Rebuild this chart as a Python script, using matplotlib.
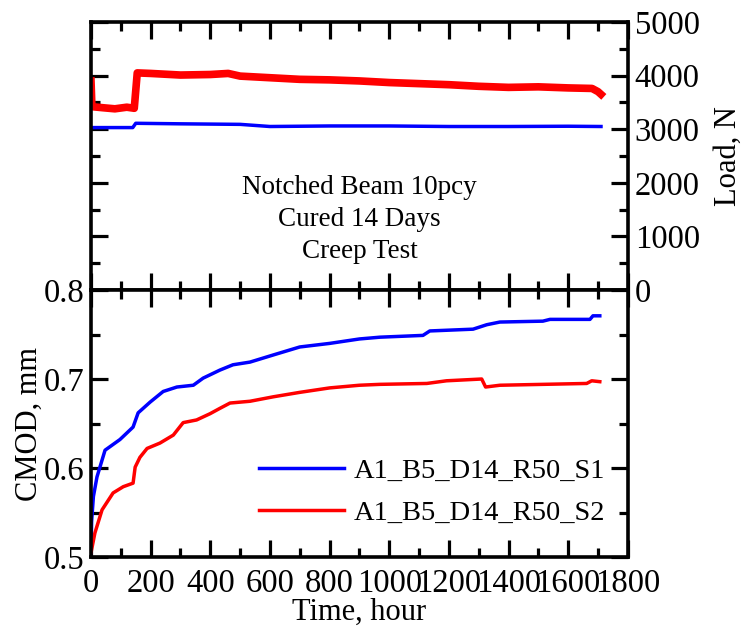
import matplotlib
matplotlib.use("Agg")
import matplotlib.pyplot as plt
from matplotlib.ticker import MultipleLocator

plt.rcParams['font.family'] = ['Liberation Serif', 'DejaVu Serif']
plt.rcParams['font.size'] = 22

# load vs time (top panel)
load_t_s1 = [0, 140, 150, 300, 500, 600, 800, 1000, 1200, 1400, 1600, 1710]
load_s1 = [3030, 3030, 3110, 3100, 3090, 3050, 3060, 3060, 3050, 3050, 3055, 3050]

load_t_s2 = [0, 3, 40, 80, 120, 145, 155, 200, 300, 400, 460, 500, 600, 700,
             800, 900, 1000, 1100, 1200, 1300, 1400, 1500, 1600, 1680, 1700, 1710]
load_s2 = [3900, 3420, 3400, 3380, 3410, 3390, 4050, 4040, 4010, 4020, 4040, 3990,
           3960, 3930, 3920, 3900, 3870, 3850, 3830, 3800, 3780, 3790, 3770, 3760,
           3700, 3650]

# CMOD vs time (bottom panel)
cmod_t_s1 = [0, 2, 8, 20, 47, 97, 141, 158, 198, 242, 288, 343, 376, 432, 476, 533,
             611, 700, 800, 900, 969, 1113, 1136, 1281, 1327, 1371, 1515, 1539,
             1673, 1683, 1706]
cmod_s1 = [0.505, 0.540, 0.568, 0.590, 0.620, 0.632, 0.646, 0.662, 0.674, 0.686,
           0.691, 0.693, 0.701, 0.710, 0.716, 0.719, 0.727, 0.736, 0.740, 0.745,
           0.747, 0.749, 0.754, 0.756, 0.761, 0.764, 0.765, 0.767, 0.767, 0.771,
           0.771]

cmod_t_s2 = [0, 13, 37, 74, 108, 141, 148, 164, 188, 231, 276, 309, 354, 399, 432,
             466, 533, 611, 700, 800, 900, 969, 1126, 1192, 1310, 1323, 1371, 1662,
             1679, 1706]
cmod_s2 = [0.505, 0.527, 0.553, 0.572, 0.579, 0.583, 0.601, 0.612, 0.622, 0.628,
           0.637, 0.651, 0.654, 0.661, 0.667, 0.673, 0.675, 0.680, 0.685, 0.690,
           0.693, 0.694, 0.695, 0.698, 0.700, 0.691, 0.693, 0.695, 0.698, 0.697]

labels = ['A1_B5_D14_R50_S1', 'A1_B5_D14_R50_S2']

fig = plt.figure(figsize=(7.43, 6.35), dpi=100)
ax1 = fig.add_axes([0.1225, 0.5433, 0.7225, 0.4221])
ax2 = fig.add_axes([0.1225, 0.1228, 0.7225, 0.4205])


def style(ax):
    for s in ax.spines.values():
        s.set_linewidth(2.6)
    ax.tick_params(which='both', direction='in', top=True, right=True, left=True,
                   bottom=True, width=2.3, labelsize=23.5)
    ax.tick_params(which='major', length=12)
    ax.tick_params(which='minor', length=6.5)
    ax.xaxis.set_major_locator(MultipleLocator(200))
    ax.xaxis.set_minor_locator(MultipleLocator(100))
    ax.set_xlim(0, 1800)


# top
ax1.plot(load_t_s2, load_s2, color='red', lw=5.5)
ax1.plot(load_t_s1, load_s1, color='blue', lw=2.5)
style(ax1)
ax1.set_ylim(0, 5000)
ax1.yaxis.set_major_locator(MultipleLocator(1000))
ax1.yaxis.set_minor_locator(MultipleLocator(500))
ax1.tick_params(labelbottom=False, labelleft=False, labelright=True, pad=5)
ax1.yaxis.set_label_position('right')
ax1.set_ylabel('Load, N')
ax1.yaxis.set_label_coords(1.161, 0.5)
ax1.text(0.5, 0.262, 'Notched Beam 10pcy\nCured 14 Days\nCreep Test',
         transform=ax1.transAxes, ha='center', va='center', fontsize=19.5,
         linespacing=1.38)

# bottom
ax2.plot(cmod_t_s1, cmod_s1, color='blue', lw=2.5, label=labels[0])
ax2.plot(cmod_t_s2, cmod_s2, color='red', lw=2.5, label=labels[1])
style(ax2)
ax2.set_ylim(0.5, 0.8)
ax2.yaxis.set_major_locator(MultipleLocator(0.1))
ax2.yaxis.set_minor_locator(MultipleLocator(0.05))
ax2.tick_params(axis='y', pad=5)
ax2.tick_params(axis='x', pad=8)
ax2.set_ylabel('CMOD, mm')
ax2.yaxis.set_label_coords(-0.088, 0.5)
ax2.set_xlabel('Time, hour')
ax2.xaxis.set_label_coords(0.5, -0.154)
ax2.legend(loc='lower right', bbox_to_anchor=(0.98, 0.075), frameon=False,
           handlelength=3.0, handletextpad=0.35, labelspacing=0.55,
           borderaxespad=0.0, fontsize=20.5)

fig.savefig('out.png', dpi=100)
